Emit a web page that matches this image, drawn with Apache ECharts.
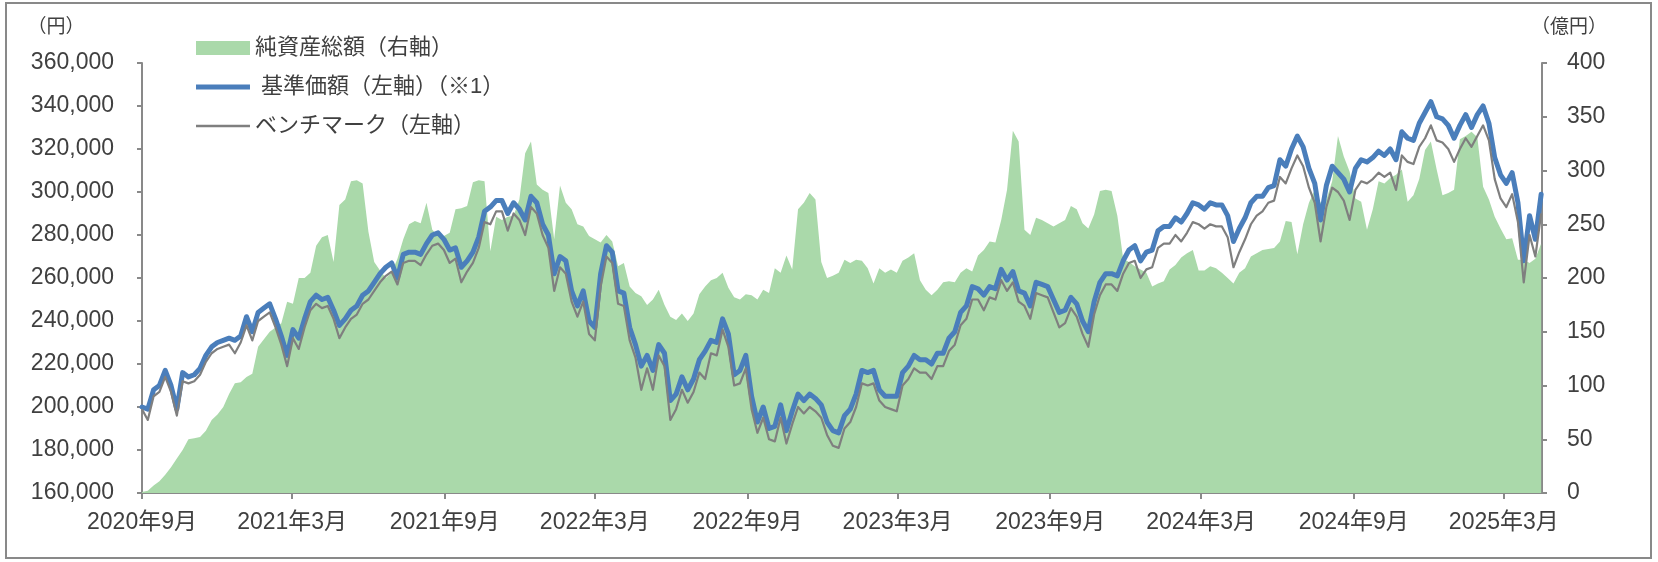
<!DOCTYPE html>
<html>

<head>
    <meta charset='UTF-8'>
    <script src='https://cdn.jsdelivr.net/npm/echarts@6/dist/echarts.min.js'></script>
    <style>
        html,
        body {
            margin: 0;
            padding: 0;
            background: #fff;
        }

        #chart {
            width: 1658px;
            height: 562px;
        }
    </style>
</head>

<body>
    <div id="chart"></div>
    <script>
        // weekly readings, first one on 2020-09-15
        const startDate = [2020, 9, 15]
        const endDate = [2025, 4, 30]

        // 基準価額 (円)
        const nav = [
            200000, 199000, 208000, 210000, 217000, 210000, 199000, 216000, 214000, 215000,
            218000, 224000, 228000, 230000, 231000, 232000, 231000, 233000, 242000, 235000,
            244000, 246000, 248000, 241000, 233000, 224000, 236000, 232000, 241000, 249000,
            252000, 250000, 251000, 245000, 238000, 241000, 245000, 247000, 252000, 254000,
            258000, 262000, 265000, 267000, 260000, 271000, 272000, 272000, 271000, 276000,
            280000, 281000, 278000, 273000, 274000, 265000, 268000, 272000, 279000, 291000,
            293000, 296000, 296000, 290000, 295000, 292000, 287000, 298000, 295000, 285000,
            280000, 262000, 270000, 268000, 254000, 247000, 254000, 240000, 237000, 262000,
            275000, 272000, 254000, 253000, 237000, 229000, 219000, 224000, 217000, 229000,
            225000, 203000, 206000, 214000, 208000, 213000, 222000, 226000, 231000, 230000,
            241000, 234000, 215000, 217000, 224000, 205000, 193000, 200000, 190000, 191000,
            201000, 189000, 198000, 206000, 203000, 206000, 204000, 201000, 193000, 189000,
            188000, 196000, 199000, 206000, 217000, 216000, 217000, 208000, 205000, 205000,
            205000, 216000, 219000, 224000, 222000, 222000, 220000, 225000, 225000, 232000,
            235000, 244000, 247000, 256000, 255000, 252000, 256000, 255000, 264000, 259000,
            263000, 254000, 253000, 247000, 258000, 257000, 256000, 250000, 244000, 245000,
            251000, 248000, 240000, 235000, 249000, 258000, 262000, 262000, 261000, 268000,
            273000, 275000, 268000, 272000, 273000, 282000, 284000, 284000, 288000, 286000,
            290000, 295000, 294000, 292000, 295000, 294000, 294000, 289000, 277000, 283000,
            288000, 295000, 298000, 298000, 302000, 303000, 315000, 312000, 320000, 326000,
            321000, 311000, 304000, 287000, 303000, 312000, 309000, 306000, 300000, 311000,
            315000, 314000, 316000, 319000, 317000, 320000, 315000, 328000, 325000, 324000,
            332000, 337000, 342000, 335000, 334000, 331000, 325000, 331000, 336000, 330000,
            336000, 340000, 332000, 316000, 308000, 304000, 309000, 295000, 268000, 289000,
            278000, 299000
        ]

        // ベンチマーク (円)
        const bench = [
            199000, 194000, 205000, 207000, 214000, 207000, 196000, 212000, 211000, 212000,
            215000, 221000, 225000, 227000, 228000, 229000, 225000, 230000, 238000, 231000,
            240000, 242000, 244000, 237000, 229000, 219000, 232000, 227000, 237000, 245000,
            248000, 246000, 247000, 241000, 232000, 237000, 241000, 243000, 248000, 250000,
            254000, 258000, 261000, 263000, 257000, 267000, 268000, 268000, 266000, 271000,
            275000, 276000, 273000, 267000, 269000, 258000, 263000, 267000, 274000, 286000,
            285000, 291000, 291000, 282000, 290000, 287000, 280000, 293000, 290000, 280000,
            274000, 254000, 265000, 262000, 249000, 242000, 249000, 234000, 231000, 256000,
            270000, 267000, 248000, 247000, 231000, 223000, 208000, 218000, 208000, 224000,
            219000, 194000, 199000, 208000, 202000, 207000, 216000, 213000, 225000, 224000,
            236000, 228000, 210000, 211000, 218000, 199000, 188000, 195000, 185000, 184000,
            195000, 183000, 192000, 200000, 197000, 200000, 198000, 195000, 187000, 182000,
            181000, 190000, 193000, 200000, 211000, 210000, 211000, 203000, 200000, 199000,
            198000, 210000, 213000, 218000, 216000, 216000, 213000, 219000, 219000, 226000,
            229000, 238000, 241000, 250000, 250000, 245000, 251000, 250000, 259000, 254000,
            258000, 249000, 247000, 241000, 253000, 252000, 251000, 244000, 237000, 239000,
            246000, 242000, 234000, 228000, 243000, 252000, 257000, 257000, 254000, 262000,
            267000, 268000, 260000, 264000, 265000, 274000, 276000, 276000, 280000, 277000,
            281000, 286000, 285000, 283000, 285000, 284000, 284000, 279000, 265000, 272000,
            278000, 285000, 289000, 291000, 295000, 296000, 307000, 304000, 311000, 317000,
            312000, 302000, 295000, 277000, 293000, 302000, 300000, 296000, 287000, 301000,
            305000, 304000, 306000, 309000, 307000, 309000, 301000, 317000, 314000, 313000,
            321000, 325000, 331000, 324000, 323000, 320000, 314000, 320000, 325000, 321000,
            326000, 331000, 324000, 306000, 297000, 293000, 299000, 286000, 258000, 280000,
            270000, 290000
        ]

        // 純資産総額 (億円)
        const aum = [
            1, 2, 7, 11, 17, 24, 32, 40, 50, 51,
            52, 58, 68, 73, 80, 92, 102, 103, 108, 111,
            136, 143, 150, 154, 158, 178, 176, 200, 200, 205,
            230, 238, 240, 215, 268, 273, 290, 291, 288, 243,
            215, 207, 200, 205, 218, 236, 250, 253, 251, 270,
            245, 239, 239, 242, 264, 265, 267, 289, 291, 290,
            225, 257, 254, 257, 258, 273, 316, 327, 287, 282,
            279, 236, 286, 270, 264, 250, 248, 239, 236, 233,
            240, 234, 211, 214, 192, 186, 183, 175, 180, 189,
            175, 164, 161, 167, 160, 167, 185, 192, 198, 200,
            205, 191, 182, 180, 185, 184, 180, 189, 186, 209,
            205, 221, 208, 264, 270, 279, 273, 215, 200, 202,
            205, 217, 214, 217, 216, 209, 195, 209, 205, 208,
            205, 216, 219, 223, 198, 189, 184, 189, 196, 197,
            196, 205, 209, 206, 221, 226, 234, 233, 254, 282,
            337, 327, 245, 240, 256, 254, 251, 248, 251, 254,
            267, 264, 251, 246, 259, 281, 282, 281, 258, 218,
            215, 211, 208, 205, 192, 195, 197, 208, 212, 219,
            223, 226, 207, 207, 211, 209, 205, 200, 195, 205,
            209, 220, 223, 226, 227, 228, 234, 253, 252, 222,
            250, 270, 282, 270, 273, 290, 332, 313, 299, 274,
            271, 245, 264, 290, 288, 293, 296, 301, 271, 277,
            292, 319, 327, 301, 277, 279, 282, 329, 332, 336,
            331, 285, 273, 257, 246, 236, 237, 217, 217, 214,
            218, 232
        ]

        const tickDates = [
            [2020, 9, 15], [2021, 3, 15], [2021, 9, 15], [2022, 3, 15], [2022, 9, 15],
            [2023, 3, 15], [2023, 9, 15], [2024, 3, 15], [2024, 9, 15], [2025, 3, 15]
        ]
        const tickLabels = [
            '2020年9月', '2021年3月', '2021年9月', '2022年3月', '2022年9月',
            '2023年3月', '2023年9月', '2024年3月', '2024年9月', '2025年3月'
        ]

        const aumName = '純資産総額（右軸）'
        const navName = '基準価額（左軸）（※1）'
        const benchName = 'ベンチマーク（左軸）'

        // x is counted in days from startDate
        const dayOf = d => Math.round((Date.UTC(d[0], d[1] - 1, d[2]) - Date.UTC(startDate[0], startDate[1] - 1, startDate[2])) / 86400000)
        const days = nav.map((v, i) => i * 7)
        const ticks = tickDates.map(dayOf)

        const font = "'Liberation Sans', 'Noto Sans CJK JP', sans-serif"
        const textColor = '#404040'
        const axisColor = '#898989'
        const green = '#aad9aa'
        const blue = '#4a7ebb'
        const gray = '#7f7f7f'

        // legend swatches: a bar inside a 54x14 box (tiny corner dots keep the box size)
        const barIcon = (y0, y1) => `path://M0,0h0.01v0.01h-0.01Z M0,${y0}H54V${y1}H0Z M53.99,14h0.01v0.01h-0.01Z`

        const myChart = echarts.init(document.getElementById('chart'))
        myChart.setOption({
            animation: false,
            backgroundColor: '#fff',
            textStyle: { fontFamily: font },
            grid: { left: 142, right: 116, top: 63, bottom: 69 },
            graphic: [{
                type: 'rect',
                silent: true,
                shape: { x: 6, y: 3, width: 1645, height: 555 },
                style: { fill: 'none', stroke: axisColor, lineWidth: 2 }
            }],
            legend: {
                orient: 'vertical',
                left: 191,
                top: 32,
                itemWidth: 54,
                itemHeight: 14,
                itemGap: 17,
                textStyle: { color: textColor, fontSize: 22, fontFamily: font },
                formatter: name => name === navName ? ' ' + name : name,
                data: [
                    { name: aumName, icon: 'rect' },
                    { name: navName, icon: barIcon(4.5, 9.5) },
                    { name: benchName, icon: barIcon(5.8, 8.2) }
                ]
            },
            xAxis: {
                type: 'value',
                min: 0,
                max: dayOf(endDate),
                axisLine: { lineStyle: { color: axisColor, width: 2 } },
                axisTick: { show: true, length: 6, customValues: ticks, lineStyle: { color: axisColor, width: 2 } },
                axisLabel: {
                    customValues: ticks,
                    color: textColor,
                    fontSize: 23,
                    fontFamily: font,
                    margin: 18,
                    formatter: v => tickLabels[ticks.indexOf(v)] || ''
                },
                splitLine: { show: false }
            },
            yAxis: [{
                type: 'value',
                position: 'left',
                min: 160000,
                max: 360000,
                interval: 20000,
                name: '（円）',
                nameLocation: 'end',
                nameGap: 35,
                nameTextStyle: { color: textColor, fontSize: 19, align: 'center', verticalAlign: 'middle', padding: [0, 172, 0, 0] },
                axisLine: { show: true, lineStyle: { color: axisColor, width: 2 } },
                axisTick: { show: true, length: 5, lineStyle: { color: axisColor, width: 2 } },
                axisLabel: { color: textColor, fontSize: 23, fontFamily: font, margin: 28, formatter: v => v.toLocaleString('en-US') },
                splitLine: { show: false }
            }, {
                type: 'value',
                position: 'right',
                min: 0,
                max: 400,
                interval: 50,
                name: '（億円）',
                nameLocation: 'end',
                nameGap: 35,
                nameTextStyle: { color: textColor, fontSize: 19, align: 'center', verticalAlign: 'middle', padding: [0, 0, 0, 54] },
                axisLine: { show: true, lineStyle: { color: axisColor, width: 2 } },
                axisTick: { show: true, length: 5, lineStyle: { color: axisColor, width: 2 } },
                axisLabel: { color: textColor, fontSize: 23, fontFamily: font, margin: 25 },
                splitLine: { show: false }
            }],
            series: [{
                name: aumName,
                type: 'line',
                yAxisIndex: 1,
                symbol: 'none',
                data: days.map((d, i) => [d, aum[i]]),
                itemStyle: { color: green },
                lineStyle: { width: 0 },
                areaStyle: { color: green, opacity: 1 },
                z: 1
            }, {
                name: navName,
                type: 'line',
                symbol: 'none',
                data: days.map((d, i) => [d, nav[i]]),
                itemStyle: { color: blue },
                lineStyle: { color: blue, width: 5, join: 'round', cap: 'round' },
                z: 2
            }, {
                name: benchName,
                type: 'line',
                symbol: 'none',
                data: days.map((d, i) => [d, bench[i]]),
                itemStyle: { color: gray },
                lineStyle: { color: gray, width: 2.2, join: 'round' },
                z: 3
            }]
        })
    </script>
</body>

</html>
